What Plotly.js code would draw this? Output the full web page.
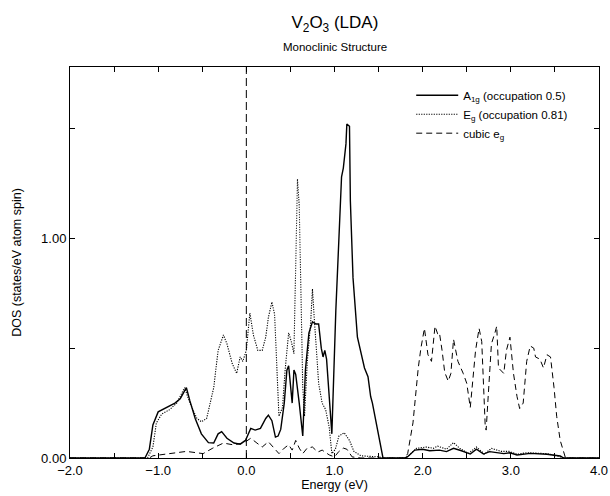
<!DOCTYPE html>
<html><head><meta charset="utf-8">
<script src="https://cdn.plot.ly/plotly-3.0.1.min.js"></script>
<style>html,body{margin:0;padding:0;background:#fff}#chart{width:610px;height:496px}</style>
</head><body><div id="chart"></div>
<script>
// A1g (solid)
var xA1g = [-2.0,-1.15,-1.10,-1.06,-1.00,-0.90,-0.81,-0.75,-0.68,-0.64,-0.58,-0.51,-0.43,-0.37,-0.32,-0.28,-0.22,-0.14,-0.07,-0.01,0.05,0.10,0.16,0.22,0.25,0.29,0.33,0.36,0.39,0.43,0.46,0.48,0.50,0.52,0.54,0.56,0.60,0.64,0.67,0.71,0.75,0.79,0.82,0.85,0.87,0.89,0.91,0.94,0.97,1.015,1.05,1.08,1.10,1.13,1.14,1.17,1.18,1.21,1.26,1.34,1.38,1.41,1.43,1.49,1.55,1.80,1.83,1.91,2.00,2.08,2.19,2.27,2.35,2.44,2.54,2.61,2.69,2.76,2.84,2.92,2.99,3.07,3.22,3.41,3.56,3.60,4.0];
var yA1g = [0,0,0.04,0.15,0.21,0.23,0.25,0.27,0.32,0.26,0.18,0.11,0.07,0.068,0.11,0.12,0.09,0.068,0.063,0.08,0.135,0.127,0.135,0.18,0.195,0.17,0.095,0.10,0.13,0.25,0.40,0.42,0.34,0.25,0.40,0.38,0.25,0.10,0.40,0.57,0.62,0.61,0.61,0.50,0.46,0.49,0.45,0.30,0.11,0.67,0.97,1.28,1.32,1.43,1.52,1.51,1.17,0.82,0.55,0.41,0.37,0.28,0.25,0.13,0,0,0.006,0.036,0.04,0.033,0.036,0.029,0.044,0.033,0.018,0.04,0.018,0.029,0.024,0.02,0.024,0.014,0.021,0.017,0.009,0,0];
// Eg (dotted)
var xEg = [-2.0,-1.12,-1.06,-1.02,-0.96,-0.87,-0.79,-0.70,-0.64,-0.56,-0.51,-0.45,-0.37,-0.32,-0.26,-0.22,-0.16,-0.11,-0.07,-0.04,0.00,0.04,0.08,0.13,0.18,0.22,0.25,0.29,0.32,0.35,0.37,0.41,0.44,0.48,0.51,0.54,0.56,0.58,0.60,0.62,0.64,0.66,0.69,0.73,0.75,0.77,0.79,0.82,0.86,0.90,0.94,0.97,1.01,1.05,1.11,1.17,1.22,1.30,1.50,1.55,1.80,1.84,1.93,2.04,2.12,2.17,2.27,2.35,2.42,2.52,2.61,2.67,2.70,2.78,2.89,2.98,3.07,3.18,3.41,3.57,3.60,4.0];
var yEg = [0,0,0.05,0.16,0.20,0.22,0.25,0.32,0.25,0.18,0.165,0.18,0.32,0.49,0.56,0.52,0.43,0.385,0.46,0.44,0.49,0.66,0.56,0.49,0.49,0.55,0.64,0.71,0.655,0.40,0.19,0.23,0.40,0.57,0.53,0.475,0.85,1.27,1.15,0.70,0.32,0.19,0.43,0.62,0.77,0.64,0.50,0.34,0.25,0.22,0.14,0.02,0.04,0.10,0.115,0.08,0.03,0.01,0.005,0,0,0.01,0.044,0.05,0.044,0.054,0.04,0.07,0.044,0.021,0.05,0.03,0.018,0.044,0.03,0.03,0.017,0.024,0.02,0.005,0,0];
// cubic eg (dashed)
var xCub = [-2.0,-1.10,-1.06,-0.95,-0.80,-0.68,-0.49,-0.38,-0.26,-0.15,-0.03,0.05,0.12,0.18,0.25,0.31,0.37,0.43,0.48,0.52,0.56,0.60,0.64,0.69,0.75,0.81,0.86,0.94,1.00,1.05,1.10,1.14,1.20,1.30,1.80,1.83,1.89,1.95,1.98,2.02,2.06,2.10,2.14,2.17,2.19,2.22,2.25,2.29,2.32,2.35,2.40,2.46,2.50,2.54,2.57,2.60,2.64,2.67,2.71,2.72,2.74,2.78,2.82,2.84,2.86,2.92,2.95,2.99,3.03,3.07,3.10,3.14,3.18,3.22,3.26,3.28,3.33,3.37,3.41,3.45,3.49,3.52,3.56,3.60,3.62,4.0];
var yCub = [0,0,0.01,0.015,0.025,0.03,0.02,0.045,0.068,0.06,0.068,0.09,0.068,0.05,0.074,0.045,0.02,0.045,0.06,0.036,0.08,0.045,0.02,0.045,0.05,0.027,0.036,0.014,0.005,0.03,0.045,0.04,0.005,0,0,0.02,0.16,0.41,0.50,0.59,0.47,0.44,0.60,0.565,0.57,0.49,0.39,0.35,0.385,0.54,0.44,0.385,0.34,0.23,0.35,0.49,0.59,0.53,0.14,0.127,0.26,0.52,0.57,0.60,0.41,0.385,0.49,0.55,0.385,0.28,0.225,0.25,0.44,0.51,0.50,0.46,0.45,0.41,0.47,0.46,0.32,0.19,0.08,0.02,0,0];

var xTickVals = [-2,-1.5,-1,-0.5,0,0.5,1,1.5,2,2.5,3,3.5,4];
var xTickText = ['\u22122.0','','\u22121.0','','0.0','','1.0','','2.0','','3.0','','4.0'];
var yTickVals = [0,0.5,1,1.5];
var yTickText = ['0.00','','1.00',''];

var FONT = 'Liberation Sans, Arial, Helvetica, sans-serif';

var traces = [
  {x:xA1g, y:yA1g, type:'scatter', mode:'lines', name:'A<sub>1g</sub> (occupation 0.5)',
   line:{color:'#000', width:1.4}},
  {x:xEg, y:yEg, type:'scatter', mode:'lines', name:'E<sub>g</sub> (occupation 0.81)',
   line:{color:'#000', width:1.1, dash:'1.2px,1.3px'}},
  {x:xCub, y:yCub, type:'scatter', mode:'lines', name:'cubic e<sub>g</sub>',
   line:{color:'#000', width:1, dash:'6px,4px'}}
];

var layout = {
  width:610, height:496,
  margin:{l:70, r:11, t:67, b:38},
  paper_bgcolor:'#fff', plot_bgcolor:'#fff',
  font:{family:FONT, color:'#000', size:13},
  title:{text:'V<sub>2</sub>O<sub>3</sub> (LDA)', font:{family:FONT, size:17, color:'#000'},
         x:0.549, xanchor:'center', yref:'container', y:0.955, yanchor:'middle'},
  annotations:[{text:'Monoclinic Structure', xref:'paper', yref:'paper', x:0.5, y:1.051,
    xanchor:'center', yanchor:'middle', showarrow:false, font:{family:FONT, size:11.5, color:'#000'}}],
  showlegend:true,
  legend:{x:0.645, y:0.965, xanchor:'left', yanchor:'top', bgcolor:'rgba(0,0,0,0)',
          itemwidth:42, font:{family:FONT, size:11.5, color:'#000'}, tracegroupgap:0},
  xaxis:{range:[-2,4], tickmode:'array', tickvals:xTickVals, ticktext:xTickText,
         ticks:'inside', ticklen:5, tickwidth:1, tickcolor:'#000',
         showline:true, linecolor:'#000', linewidth:1, mirror:'ticks',
         showgrid:false, zeroline:false, tickfont:{size:13},
         title:{text:'Energy (eV)', font:{size:12.5}, standoff:3}},
  yaxis:{range:[0,1.78], tickmode:'array', tickvals:yTickVals, ticktext:yTickText,
         ticks:'inside', ticklen:5, tickwidth:1, tickcolor:'#000',
         showline:true, linecolor:'#000', linewidth:1, mirror:'ticks',
         showgrid:false, zeroline:false, tickfont:{size:13},
         title:{text:'DOS (states/eV atom spin)', font:{size:12.5}, standoff:16}},
  shapes:[{type:'line', xref:'x', yref:'paper', x0:0, x1:0, y0:0, y1:1,
           line:{color:'#000', width:1, dash:'8px,4px'}}]
};

Plotly.newPlot('chart', traces, layout, {displayModeBar:false, staticPlot:true});
</script></body></html>
